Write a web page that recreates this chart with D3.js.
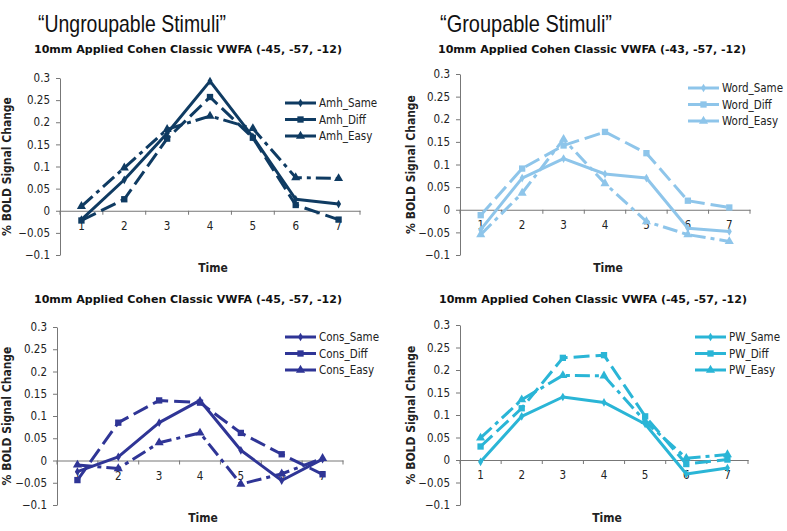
<!DOCTYPE html>
<html><head><meta charset="utf-8">
<script src="https://cdn.jsdelivr.net/npm/d3@7"></script>
<style>
body{margin:0;background:#fff;}
text{font-family:"DejaVu Sans Condensed","DejaVu Sans",Verdana,sans-serif;}
</style></head>
<body><svg id="c" width="787" height="531"></svg>
<script>
const timePoints = ["1","2","3","4","5","6","7"];
const yTicks = [-0.1,-0.05,0,0.05,0.1,0.15,0.2,0.25,0.3];
const conditions = ["Same","Diff","Easy"];
const headings = ["\u201CUngroupable Stimuli\u201D","\u201CGroupable Stimuli\u201D"];
const panelTitles = ["10mm Applied Cohen Classic VWFA (-45, -57, -12)","10mm Applied Cohen Classic VWFA (-43, -57, -12)","10mm Applied Cohen Classic VWFA (-45, -57, -12)","10mm Applied Cohen Classic VWFA (-45, -57, -12)"];
const prefixes = ["Amh","Word","Cons","PW"];

const amhSame = [-0.020,0.070,0.175,0.293,0.167,0.026,0.015];
const amhDiff = [-0.022,0.026,0.163,0.257,0.165,0.013,-0.020];
const amhEasy = [0.010,0.097,0.184,0.214,0.186,0.075,0.073];

const wordSame = [-0.044,0.070,0.113,0.079,0.070,-0.041,-0.048];
const wordDiff = [-0.012,0.091,0.142,0.172,0.125,0.020,0.005];
const wordEasy = [-0.055,0.037,0.156,0.058,-0.026,-0.055,-0.070];

const consSame = [-0.025,0.008,0.085,0.135,0.023,-0.045,0.003];
const consDiff = [-0.044,0.085,0.135,0.130,0.062,0.014,-0.031];
const consEasy = [-0.010,-0.018,0.040,0.062,-0.053,-0.030,0.005];

const pwSame = [-0.004,0.097,0.140,0.128,0.080,-0.031,-0.018];
const pwDiff = [0.030,0.115,0.227,0.233,0.097,-0.009,0.001];
const pwEasy = [0.049,0.134,0.188,0.187,0.086,0.004,0.012];

const panelSeries = [[amhSame,amhDiff,amhEasy],[wordSame,wordDiff,wordEasy],[consSame,consDiff,consEasy],[pwSame,pwDiff,pwEasy]];
const colors = ["#0f3b62","#8ec5ea","#2f3596","#2ab5d6"];

// layout (pixels)
const layout = [
  {x0:60,x1:360,yTop:78,yBot:255,titleY:53,titleX:188,timeY:272,legX:285,legY:103,labX:11},
  {x0:460,x1:750,yTop:74,yBot:255,titleY:53,titleX:592,timeY:272,legX:688,legY:88,labX:415},
  {x0:57,x1:343,yTop:327,yBot:505,titleY:303,titleX:188,timeY:522,legX:285,legY:337,labX:11},
  {x0:460,x1:748,yTop:325,yBot:505,titleY:303,titleX:593,timeY:522,legX:695,legY:337,labX:415}
];
const dashes = [null,"16,6","15,5,4,5"];
const markers = [d3.symbolDiamond, d3.symbolSquare, d3.symbolTriangle];
const markerSizes = [22,40,36];

const svg = d3.select("#c");
svg.append("rect").attr("width",787).attr("height",531).attr("fill","#fff");

[[132,headings[0],188],[526,headings[1],172]].forEach(([cx,t,w])=>{
  svg.append("text").attr("x",cx).attr("y",32).attr("text-anchor","middle")
    .style("font-family","'Liberation Sans',Arial,sans-serif").style("font-size","24px")
    .attr("textLength",w).attr("lengthAdjust","spacingAndGlyphs").attr("fill","#111").text(t);
});

layout.forEach((L,pi)=>{
  const g = svg.append("g");
  const x = d3.scaleBand().domain(timePoints).range([L.x0,L.x1]);
  const y = d3.scaleLinear().domain([-0.1,0.3]).range([L.yBot,L.yTop]);
  const axisCol = "#777";
  g.append("text").attr("x",L.titleX).attr("y",L.titleY).attr("text-anchor","middle")
    .style("font-size","10px").style("font-weight","bold").attr("fill","#111")
    .attr("textLength",308).attr("lengthAdjust","spacingAndGlyphs").text(panelTitles[pi]);
  const ya = g.append("g").attr("transform",`translate(${L.x0},0)`)
    .call(d3.axisLeft(y).tickValues(yTicks).tickSize(4).tickSizeOuter(0).tickPadding(6).tickFormat(d=>d3.format("")(+d.toFixed(2))));
  ya.select(".domain").attr("stroke",axisCol);
  ya.selectAll(".tick line").attr("stroke",axisCol);
  ya.selectAll(".tick text").style("font-size","11.5px").attr("fill","#222").style("font-family","'DejaVu Sans Condensed','DejaVu Sans',sans-serif");
  const xa = g.append("g").attr("transform",`translate(0,${y(0)})`)
    .call(d3.axisBottom(x).tickSize(0).tickPadding(11));
  xa.select(".domain").attr("stroke",axisCol);
  xa.selectAll(".tick text").style("font-size","11.5px").attr("fill","#222").style("font-family","'DejaVu Sans Condensed','DejaVu Sans',sans-serif");
  g.selectAll(".bt").data(d3.range(timePoints.length+1)).enter().append("line")
    .attr("x1",i=>L.x0+i*x.step()).attr("x2",i=>L.x0+i*x.step())
    .attr("y1",y(0)).attr("y2",y(0)+4).attr("stroke",axisCol);
  g.append("text").attr("transform",`translate(${L.labX},${(L.yTop+L.yBot)/2}) rotate(-90)`)
    .attr("text-anchor","middle").style("font-size","12px").style("font-weight","bold").attr("fill","#222")
    .text("% BOLD Signal Change");
  g.append("text").attr("x",(L.x0+L.x1)/2+3).attr("y",L.timeY).attr("text-anchor","middle")
    .style("font-size","12px").style("font-weight","bold").attr("fill","#222").text("Time");
  const line = d3.line().x((d,i)=>x(timePoints[i])+x.bandwidth()/2).y(d=>y(d));
  panelSeries[pi].forEach((vals,si)=>{
    g.append("path").datum(vals).attr("d",line).attr("fill","none")
      .attr("stroke",colors[pi]).attr("stroke-width",3)
      .attr("stroke-dasharray",dashes[si]).attr("stroke-linejoin","round");
    g.selectAll(null).data(vals).enter().append("path")
      .attr("transform",(d,i)=>`translate(${x(timePoints[i])+x.bandwidth()/2},${y(d)})`)
      .attr("d",d3.symbol().type(markers[si]).size(markerSizes[si])).attr("fill",colors[pi]);
    const ly = L.legY + si*16.5;
    g.append("line").attr("x1",L.legX).attr("x2",L.legX+31).attr("y1",ly).attr("y2",ly)
      .attr("stroke",colors[pi]).attr("stroke-width",3);
    g.append("path").attr("transform",`translate(${L.legX+15.5},${ly})`)
      .attr("d",d3.symbol().type(markers[si]).size(markerSizes[si])).attr("fill",colors[pi]);
    g.append("text").attr("x",L.legX+34).attr("y",ly+4).style("font-size","11.5px").attr("fill","#222")
      .text(prefixes[pi]+"_"+conditions[si]);
  });
});
</script></body></html>
